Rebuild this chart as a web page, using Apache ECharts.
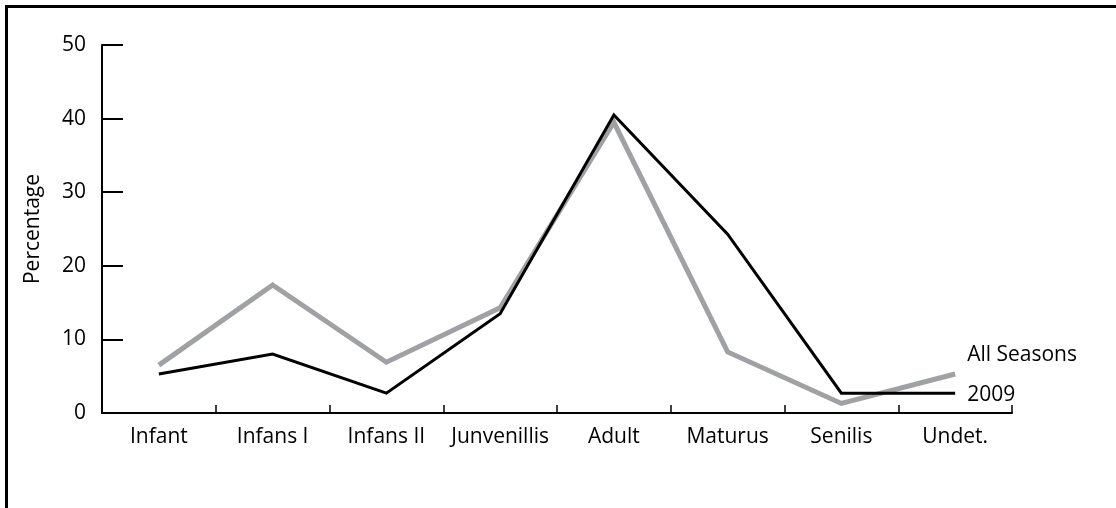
<!DOCTYPE html>
<html>
<head>
<meta charset="utf-8">
<script src="https://cdn.jsdelivr.net/npm/echarts@6/dist/echarts.min.js"></script>
<style>
html,body{margin:0;padding:0;background:#fff;}
#chart{width:1116px;height:508px;}
</style>
</head>
<body>
<div id="chart"></div>
<script>
const categories = ['Infant', 'Infans I', 'Infans II', 'Junvenillis', 'Adult', 'Maturus', 'Senilis', 'Undet.'];
const allSeasons = [6.5, 17.4, 6.9, 14.3, 39.5, 8.3, 1.3, 5.3];
const y2009 = [5.3, 8.0, 2.7, 13.5, 40.5, 24.3, 2.7, 2.7];
const yTicks = [0, 10, 20, 30, 40, 50];
const yAxisName = 'Percentage';

const FONT = 'Open Sans';
const FS = 21;
const chart = echarts.init(document.getElementById('chart'), null, {renderer: 'canvas'});
chart.setOption({
  animation: false,
  backgroundColor: '#fff',
  graphic: [
    {type: 'rect', shape: {x: 5, y: 5, width: 1111, height: 3}, style: {fill: '#000'}},
    {type: 'rect', shape: {x: 5, y: 5, width: 3, height: 503}, style: {fill: '#000'}}
  ],
  grid: {left: 102, right: 104, top: 45, bottom: 95},
  xAxis: {
    type: 'category',
    data: categories,
    boundaryGap: true,
    axisLine: {lineStyle: {color: '#000', width: 2}},
    axisTick: {show: true, inside: true, interval: 0, alignWithLabel: false, length: 8, lineStyle: {color: '#000', width: 1.5}},
    axisLabel: {color: '#000', fontFamily: FONT, fontSize: FS, margin: 14, interval: 0},
    splitLine: {show: false}
  },
  yAxis: {
    type: 'value',
    min: yTicks[0],
    max: yTicks[yTicks.length - 1],
    interval: 10,
    name: yAxisName,
    nameLocation: 'middle',
    nameRotate: 90,
    nameGap: 58,
    nameTextStyle: {color: '#000', fontFamily: FONT, fontSize: FS},
    axisLine: {show: true, lineStyle: {color: '#000', width: 2}},
    axisTick: {show: true, inside: true, length: 21, lineStyle: {color: '#000', width: 2}},
    axisLabel: {color: '#000', fontFamily: FONT, fontSize: FS, margin: 16, padding: [10, 0, 0, 0]},
    splitLine: {show: false}
  },
  series: [
    {
      name: 'All Seasons',
      type: 'line',
      data: allSeasons,
      symbol: 'none',
      lineStyle: {color: '#a0a1a4', width: 5, join: 'miter'},
      endLabel: {show: true, formatter: '{a}', color: '#000', fontFamily: FONT, fontSize: FS, distance: 12, offset: [0, -19]}
    },
    {
      name: '2009',
      type: 'line',
      data: y2009,
      symbol: 'none',
      lineStyle: {color: '#000', width: 3, join: 'miter'},
      endLabel: {show: true, formatter: '{a}', color: '#000', fontFamily: FONT, fontSize: FS, distance: 12, offset: [0, 2]}
    }
  ]
});
</script>
</body>
</html>
